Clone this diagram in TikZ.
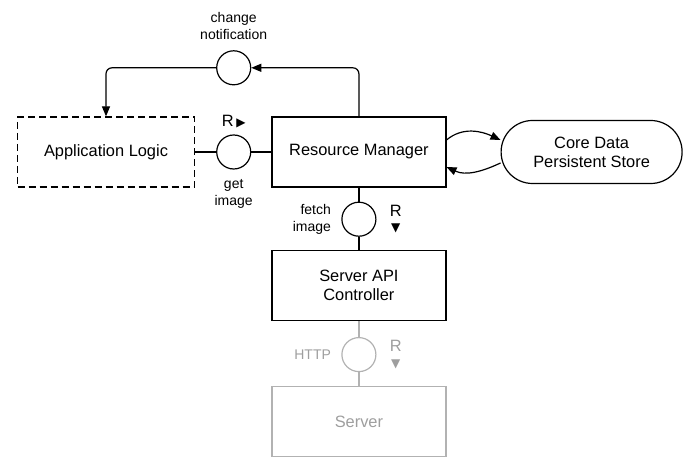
\documentclass[tikz,border=0pt]{standalone}
\usepackage{fontspec}
\setmainfont{Liberation Sans}
\newfontfamily\symfont{DejaVu Sans}
\usetikzlibrary{positioning, arrows.meta}

\definecolor{fadedline}{gray}{0.70}
\definecolor{fadedtext}{gray}{0.62}
\newcommand{\rtri}{{\symfont\fontsize{6}{6}\selectfont ▶}}
\newcommand{\dtri}{{\symfont\fontsize{6}{6}\selectfont ▼}}

\begin{document}
\begin{tikzpicture}[
    x=0.5pt, y=-0.5pt,
    box/.style={rectangle, draw, line width=0.6pt, minimum width=87pt,
                minimum height=35pt, font=\fontsize{8.2}{9.6}\selectfont,
                align=center},
    store/.style={box, rounded corners=15.7pt, minimum width=90.5pt,
                  minimum height=31.5pt},
    port/.style={circle, draw, line width=0.6pt, minimum size=17pt,
                 inner sep=0pt},
    note/.style={font=\fontsize{7}{8.6}\selectfont, align=center,
                 inner sep=1pt},
    rtag/.style={font=\fontsize{8.2}{7.6}\selectfont, align=center,
                 inner sep=1pt},
    wire/.style={line width=0.6pt},
    arrow/.style={wire, -{Triangle[length=5pt,width=4pt]}},
    faint/.style={draw=fadedline, text=fadedtext}
]
\useasboundingbox (0,0) rectangle (699,469);

\node[box, dash pattern=on 3.5pt off 2pt, minimum width=88.5pt] (app) at (106,152) {Application Logic};
\node[port, right=10.5pt of app] (getimg) {};
\node[box, right=10pt of getimg] (rm) {Resource Manager};
\node[store, right=27pt of rm] (coredata) {Core Data\\Persistent Store};
\node[port, above=24.5pt of getimg] (notify) {};
\node[port, below=7pt of rm] (fetch) {};
\node[box, below=6.5pt of fetch] (api) {Server API\\Controller};
\node[port, faint, below=8pt of api] (http) {};
\node[box, faint, below=7pt of http] (server) {Server};

% port labels
\node[note, above=4pt of notify] (notifylbl) {change\\notification};
\node[rtag, above=2pt of getimg] (getR) {R\,\rtri};
\node[note, below=3.5pt of getimg] (getlbl) {get\\image};
\node[note, left=4pt of fetch, align=right] (fetchlbl) {fetch\\image};
\node[rtag, right=5.5pt of fetch] (fetchR) {R\\\dtri};
\node[note, left=4pt of http, text=fadedtext] (httplbl) {HTTP};
\node[rtag, right=5.5pt of http, text=fadedtext] (httpR) {R\\\dtri};

\draw[wire] (app) -- (getimg);
\draw[wire] (getimg) -- (rm);
\draw[arrow, rounded corners=3pt] (rm.north) |- (notify);
\draw[arrow, rounded corners=3pt] (notify) -| (app.north);
\draw[wire] (rm) -- (fetch);
\draw[wire] (fetch) -- (api);
\draw[wire, fadedline] (api) -- (http);
\draw[wire, fadedline] (http) -- (server);

\draw[arrow] ([yshift=6pt]rm.east) to[out=40, in=155] ([yshift=6pt]coredata.west);
\draw[arrow] ([yshift=-5.5pt]coredata.west) to[out=205, in=-25] ([yshift=-7.5pt]rm.east);
\end{tikzpicture}
\end{document}
